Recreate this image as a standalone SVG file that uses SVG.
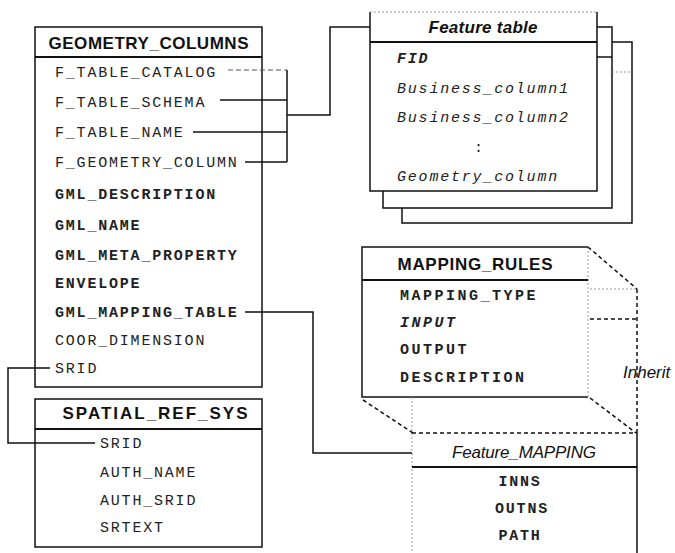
<svg xmlns="http://www.w3.org/2000/svg" width="675" height="553" viewBox="0 0 675 553">
<style>
.bg{fill:#fff}
.box{fill:#fff;stroke:#111;stroke-width:1.5}
.ln{fill:none;stroke:#111;stroke-width:1.5}
.sep{fill:none;stroke:#111;stroke-width:2}
.faint{fill:none;stroke:#999;stroke-width:1;stroke-dasharray:2 2}
.gd{fill:none;stroke:#555;stroke-width:1.2;stroke-dasharray:5 3}
.dash{fill:none;stroke:#111;stroke-width:1.5;stroke-dasharray:4 3}
.h{font-family:"Liberation Sans",Arial,sans-serif;font-weight:bold;font-size:17px;text-anchor:middle;fill:#111}
.hi{font-family:"Liberation Sans",Arial,sans-serif;font-style:italic;font-size:17px;text-anchor:middle;fill:#111}
.r{font-family:"Liberation Mono","Courier New",monospace;font-size:15px;letter-spacing:1.8px;fill:#222}
.b{font-weight:bold}
.i{font-style:italic}
.w{letter-spacing:2.5px}
.c{text-anchor:middle}
.lab{font-family:"Liberation Sans",Arial,sans-serif;font-style:italic;font-size:17px;fill:#111}
</style>
<rect class="bg" x="0" y="0" width="675" height="553"/>

<g id="geometry_columns">
  <rect class="box" x="35" y="27" width="227" height="360"/>
  <path class="sep" d="M35 57 H262"/>
  <text class="h" x="148.5" y="49" textLength="200">GEOMETRY_COLUMNS</text>
  <text class="r" x="55" y="77">F_TABLE_CATALOG</text>
  <text class="r" x="55" y="107">F_TABLE_SCHEMA</text>
  <text class="r" x="55" y="137">F_TABLE_NAME</text>
  <text class="r" x="55" y="167">F_GEOMETRY_COLUMN</text>
  <text class="r b" x="55" y="199">GML_DESCRIPTION</text>
  <text class="r b" x="55" y="230">GML_NAME</text>
  <text class="r b" x="55" y="260">GML_META_PROPERTY</text>
  <text class="r b" x="55" y="288">ENVELOPE</text>
  <text class="r b" x="55" y="317">GML_MAPPING_TABLE</text>
  <text class="r" x="55" y="345">COOR_DIMENSION</text>
  <text class="r" x="55" y="373">SRID</text>
</g>

<g id="spatial_ref_sys">
  <rect class="box" x="35" y="399" width="227" height="148"/>
  <path class="sep" d="M35 429 H262"/>
  <text class="h" x="155" y="419" textLength="185">SPATIAL_REF_SYS</text>
  <text class="r" x="100" y="448">SRID</text>
  <text class="r" x="100" y="477">AUTH_NAME</text>
  <text class="r" x="100" y="505">AUTH_SRID</text>
  <text class="r" x="100" y="532">SRTEXT</text>
</g>

<g id="feature_table">
  <path class="ln" d="M597 27 H612 V208 H383 V191"/>
  <path class="ln" d="M597 57 H612"/>
  <path class="ln" d="M612 42 H632 V223 H402 V208"/>
  <path class="faint" d="M612 72 H632"/>
  <path class="ln" d="M370 12 V191 H597 V12"/>
  <path class="faint" d="M370 12 H597"/>
  <path class="sep" d="M370 42 H597"/>
  <text class="h i" x="483" y="33" textLength="109">Feature table</text>
  <text class="r b i" x="397" y="63">FID</text>
  <text class="r i" x="397" y="93">Business_column1</text>
  <text class="r i" x="397" y="122">Business_column2</text>
  <text class="r" x="474" y="152">:</text>
  <text class="r i" x="397" y="181">Geometry_column</text>
</g>

<g id="mapping_rules">
  <path class="ln" d="M588 247 H362 V397 H588"/>
  <path class="faint" d="M588 247 V397"/>
  <path class="sep" d="M362 280 H588"/>
  <text class="h" x="475" y="270" textLength="155">MAPPING_RULES</text>
  <text class="r b w" x="400" y="300">MAPPING_TYPE</text>
  <text class="r b i w" x="400" y="327">INPUT</text>
  <text class="r b w" x="400" y="354">OUTPUT</text>
  <text class="r b w" x="400" y="382">DESCRIPTION</text>
</g>

<g id="feature_mapping">
  <path class="faint" d="M412 433 V553"/>
  <path class="ln" d="M637 433 V553"/>
  <path class="sep" d="M412 467 H637"/>
  <text class="hi" x="524" y="458" textLength="144">Feature_MAPPING</text>
  <text class="r b c" x="520" y="486">INNS</text>
  <text class="r b c" x="522" y="513">OUTNS</text>
  <text class="r b c" x="520" y="540">PATH</text>
</g>

<g id="connectors">
  <path class="gd" d="M228 70 H287"/>
  <path class="ln" d="M287 70 V162"/>
  <path class="ln" d="M220 100 H287"/>
  <path class="ln" d="M193 132 H287"/>
  <path class="ln" d="M245 162 H287"/>
  <path class="ln" d="M287 115 H330 V27 H370"/>
  <path class="ln" d="M245 312 H313 V453 H412"/>
  <path class="ln" d="M50 368 H8 V443 H95"/>
  <path class="dash" d="M588 247 L637 289"/>
  <path class="dash" d="M637 289 V433"/>
  <path class="dash" d="M590 398 L636 433"/>
  <path class="dash" d="M363 400 L413 433"/>
  <path class="dash" d="M412 433 H637"/>
  <path class="faint" d="M590 289 H637"/>
  <path class="dash" d="M590 319 H637"/>
  <path class="faint" d="M412 397 V433"/>
</g>

<g id="inherit_label">
  <text class="lab" x="623" y="378">Inherit</text>
</g>
</svg>
